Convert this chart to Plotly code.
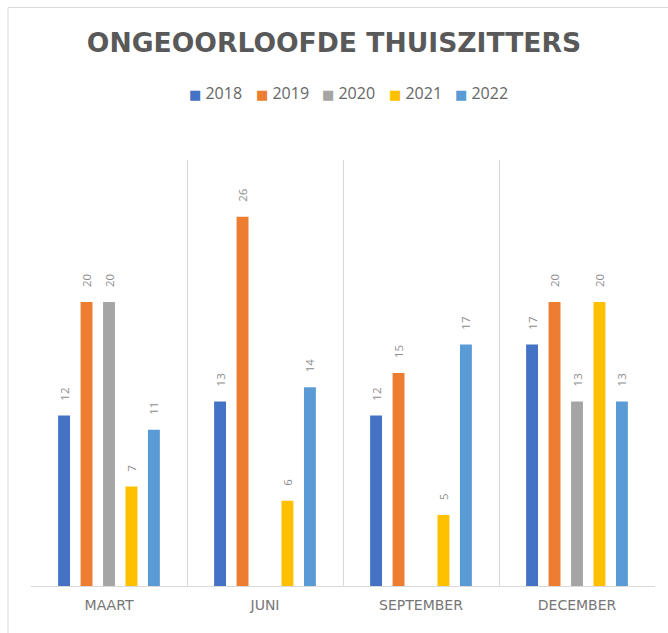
import plotly.graph_objects as go

categories = ["MAART", "JUNI", "SEPTEMBER", "DECEMBER"]
years = ["2018", "2019", "2020", "2021", "2022"]
v2018 = [12, 13, 12, 17]
v2019 = [20, 26, 15, 20]
v2020 = [20, None, None, 13]
v2021 = [7, 6, 5, 20]
v2022 = [11, 14, 17, 13]
series = [v2018, v2019, v2020, v2021, v2022]
colors = ["#4472C4", "#ED7D31", "#A5A5A5", "#FFC000", "#5B9BD5"]

W, H = 668, 633
L, R, T, B = 31, 13, 160, 47
PW, PH = W - L - R, H - T - B

NB = "\u00a0" * 4

fig = go.Figure()
for name, vals, col in zip(years, series, colors):
    fig.add_trace(go.Bar(
        name=name, x=categories, y=vals, marker_color=col,
        marker_line_width=0,
        text=[("" if v is None else NB + str(v)) for v in vals],
        textposition="outside", textangle=-90, constraintext="none",
        textfont=dict(family="Open Sans", size=11.5, color="#8C8C8C"),
        cliponaxis=False, showlegend=False,
    ))

fig.update_layout(
    width=W, height=H,
    margin=dict(l=L, r=R, t=T, b=B),
    paper_bgcolor="white", plot_bgcolor="white",
    barmode="group", bargap=0.28, bargroupgap=0.47,
    title=dict(text="<b>ONGEOORLOOFDE THUISZITTERS</b>", x=0.5, xanchor="center",
               y=1 - 43 / H, yanchor="middle",
               font=dict(family="DejaVu Sans", size=26.6, color="#595959")),
    showlegend=False,
)
fig.update_xaxes(
    type="category", tickson="boundaries", showgrid=True, gridcolor="#D9D9D9",
    gridwidth=1, showline=True, linecolor="#D9D9D9", ticks="",
    tickfont=dict(family="DejaVu Sans", size=14, color="#767676"),
    ticklabelstandoff=6,
    range=[-0.5, 3.5],
)
fig.update_yaxes(range=[0, 30], showgrid=False, showticklabels=False, zeroline=False,
                 showline=False)

# custom legend (compact spacing like the original)
for i, (name, col) in enumerate(zip(years, colors)):
    px = 187 + i * 66.5
    fig.add_annotation(
        xref="paper", yref="paper", x=(px - L) / PW, y=(H - B - 93) / PH,
        xanchor="left", yanchor="middle", showarrow=False,
        text=f"<span style='color:{col};font-size:13px;font-family:DejaVu Sans'>■</span> {name}",
        font=dict(family="Open Sans", size=16, color="#666666"),
    )

# chart frame border
fig.add_shape(type="rect", xref="paper", yref="paper",
              x0=(8 - L) / PW, x1=1.2, y0=-0.3, y1=(H - B - 7.5) / PH,
              line=dict(color="#D9D9D9", width=1), fillcolor="rgba(0,0,0,0)", layer="below")

fig.write_html("out.html", config={"displayModeBar": False},
               post_script="document.body.style.margin='0';")
